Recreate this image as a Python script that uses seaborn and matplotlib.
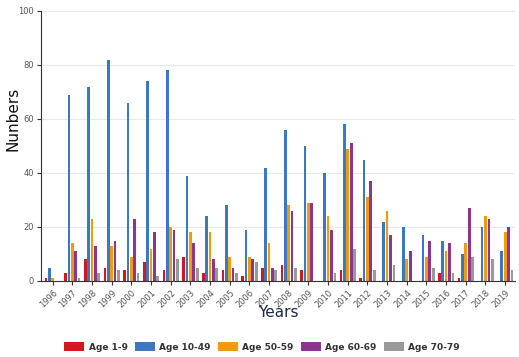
import pandas as pd
import numpy as np
import matplotlib
matplotlib.use('Agg')
import matplotlib.pyplot as plt
import seaborn as sns
from matplotlib.patches import Patch

# veriler
years = [str(y) for y in range(1996, 2020)]
age_1_9 = [1, 3, 8, 5, 4, 7, 4, 9, 3, 4, 2, 5, 6, 4, 0, 4, 1, 0, 0, 0, 3, 1, 0, 0]
age_10_49 = [5, 69, 72, 82, 66, 74, 78, 39, 24, 28, 19, 42, 56, 50, 40, 58, 45, 22, 20, 17, 15, 10, 20, 11]
age_50_59 = [1, 14, 23, 13, 9, 12, 20, 18, 18, 9, 9, 14, 28, 29, 24, 49, 31, 26, 8, 9, 11, 14, 24, 18]
age_60_69 = [0, 11, 13, 15, 23, 18, 19, 14, 8, 5, 8, 5, 26, 29, 19, 51, 37, 17, 11, 15, 14, 27, 23, 20]
age_70_79 = [0, 1, 3, 4, 3, 2, 8, 5, 5, 3, 7, 4, 5, 0, 3, 12, 4, 6, 0, 5, 3, 9, 8, 4]

groups = ['Age 1-9', 'Age 10-49', 'Age 50-59', 'Age 60-69', 'Age 70-79']
colors = ['#d0191d', '#3b78c4', '#f39a0b', '#8b3790', '#999999']

df = pd.DataFrame({'Year': years, 'Age 1-9': age_1_9, 'Age 10-49': age_10_49,
                   'Age 50-59': age_50_59, 'Age 60-69': age_60_69, 'Age 70-79': age_70_79})
long_df = df.melt(id_vars='Year', var_name='Group', value_name='Value')

sns.set_style('white')
fig = plt.figure(figsize=(5.19, 3.57), dpi=100)
ax = fig.add_axes([41 / 519, 76 / 357, 474 / 519, 270 / 357])

sns.barplot(data=long_df, x='Year', y='Value', hue='Group', hue_order=groups,
            palette=colors, width=0.85, gap=0.2, ax=ax, legend=False,
            edgecolor='none', saturation=1)

ax.set_ylim(0, 100)
ax.set_yticks([0, 20, 40, 60, 80, 100])
ax.yaxis.grid(True, color='#e8e8e8', linewidth=0.8)
ax.set_axisbelow(True)
for s in ['top', 'right']:
    ax.spines[s].set_visible(False)
ax.spines['left'].set_color('#333333')
ax.spines['bottom'].set_color('#333333')
ax.tick_params(axis='both', which='both', length=3, color='#333333',
               labelsize=6, labelcolor='#555555', bottom=True, left=True, pad=2)
plt.setp(ax.get_xticklabels(), rotation=45, ha='right', rotation_mode='anchor')
ax.set_xlim(-0.6, len(years) - 0.5)

ax.set_xlabel('Years', fontsize=11, color='#1a2a4a', va='center')
ax.xaxis.set_label_coords(0.5, -0.118)
ax.set_ylabel('Nunbers', fontsize=11, color='#111111', va='center')
ax.yaxis.set_label_coords(-0.059, 0.60)

# alt kısımdaki açıklama
handles = [Patch(facecolor=c, edgecolor='none') for c in colors]
fig.legend(handles, groups, loc='center', bbox_to_anchor=(262 / 519, 10 / 357),
           ncol=5, frameon=False, prop={'size': 6.5, 'weight': 'bold'},
           handlelength=2.2, handleheight=1.2, columnspacing=0.8, handletextpad=0.5,
           labelcolor='#333333')

fig.savefig('out.png', dpi=100)
